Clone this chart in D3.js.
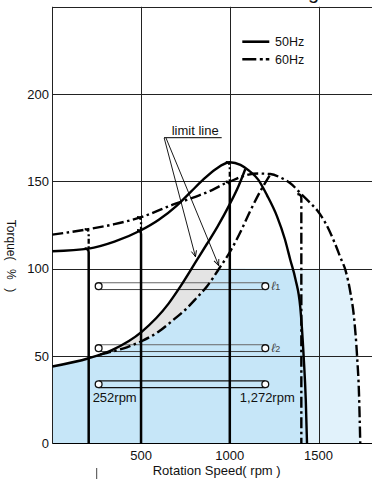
<!DOCTYPE html>
<html><head><meta charset="utf-8">
<script src="https://cdn.jsdelivr.net/npm/d3@7"></script>
<style>
body{margin:0;background:#fff}
svg{display:block}
text{font-family:Arial,"Liberation Sans",sans-serif;fill:#111}
</style>
</head><body>
<svg id="chart" width="372" height="479"></svg>
<script>
// ---- data ----
const rpm50    = [0, 205, 350, 500, 600, 700, 780, 850, 920, 1000, 1060, 1110, 1160, 1210, 1266, 1310, 1341, 1370, 1397, 1416, 1428, 1435];
const torque50 = [110, 111.5, 115.5, 122, 128, 136, 144, 151, 157, 161, 159.5, 156, 151, 142, 130, 117, 105, 94, 78, 50, 25, 0];
const rpm60    = [0, 205, 350, 500, 675, 806, 900, 975, 1000, 1021, 1097, 1160, 1228, 1290, 1341, 1403, 1450, 1491, 1540, 1590, 1625, 1652, 1680, 1700, 1717, 1728, 1735];
const torque60 = [119.5, 122.7, 125.5, 129.5, 136.5, 141.2, 145, 148.9, 149.8, 150.8, 153.7, 154.5, 154.2, 152, 148.9, 142.7, 138, 133.6, 126, 115, 106, 99, 86, 72, 50, 28, 0];
const rpmLimit50    = [0, 205, 336, 505, 655, 721, 815, 870, 930, 1000, 1050, 1087];
const torqueLimit50 = [44, 48.7, 53.4, 64, 80, 89.7, 105, 114, 124, 137, 147.5, 157];
const rpmLimit60    = [270, 336, 420, 505, 600, 674, 759, 806, 872, 946, 1003, 1060, 1115, 1170, 1228];
const torqueLimit60 = [50.8, 52.5, 55, 58.6, 64, 70, 77.5, 82.5, 90, 101, 110, 121, 133, 144, 154];
const speedSettings50 = [205, 500, 1000];
const speedSettings60 = [1403];
const xTicks = [500, 1000, 1500];
const yTicks = [0, 50, 100, 150, 200];
const bandTorque = [90, 54.5, 33.8];
const bandNames  = ["1", "2", ""];
const bandRpm    = [261, 1200];
const bandLabels = ["252rpm", "1,272rpm"];
const seriesNames = ["50Hz", "60Hz"];
const torqueCap = 100;

// ---- setup ----
const svg = d3.select("#chart");
const x = d3.scaleLinear().domain([0, 1800]).range([52.3, 371.8]);
const y = d3.scaleLinear().domain([0, 250]).range([443.3, 6.8]);
const crisp = v => Math.round(v) + 0.5;
const pts = (r, t) => r.map((v, i) => [v, t[i]]);
const at = (r, t, v) => t[r.indexOf(v)];
const DASH = "11,3.5,2.5,3.5";

const line = d3.line().x(d => x(d[0])).y(d => y(d[1])).curve(d3.curveMonotoneX);
const area = d3.area().x(d => x(d[0])).y0(y(0)).y1(d => y(d[1])).curve(d3.curveMonotoneX);

const p50 = pts(rpm50, torque50), p60 = pts(rpm60, torque60);
const pL50 = pts(rpmLimit50, torqueLimit50), pL60 = pts(rpmLimit60, torqueLimit60);

// clip below the 100% cap
svg.append("clipPath").attr("id", "cap").append("rect")
  .attr("x", x(0)).attr("y", y(torqueCap))
  .attr("width", x(1800) - x(0)).attr("height", y(0) - y(torqueCap));

const fills = svg.append("g").attr("clip-path", "url(#cap)");
fills.append("path").attr("d", area(p60.filter(d => d[0] >= 975))).attr("fill", "#e1f2fb");
fills.append("path").attr("d", area(pL50)).attr("fill", "#e4e4e4");
const lower = pL50.filter(d => d[0] < 270).concat(pL60, p50.filter(d => d[0] > 1240));
fills.append("path").attr("d", area(lower)).attr("fill", "#c6e6f8");

// ---- grid ----
const grid = svg.append("g").attr("stroke", "#222").attr("stroke-width", 1).attr("fill", "none");
yTicks.filter(v => v > 0).concat([250]).forEach(v => {
  grid.append("line").attr("x1", x(0)).attr("x2", 372).attr("y1", crisp(y(v))).attr("y2", crisp(y(v)));
});
xTicks.forEach(v => {
  grid.append("line").attr("x1", crisp(x(v))).attr("x2", crisp(x(v))).attr("y1", y(250)).attr("y2", y(0));
});
grid.append("line").attr("x1", crisp(x(0))).attr("x2", crisp(x(0))).attr("y1", y(250)).attr("y2", y(0));
grid.append("line").attr("x1", x(0)).attr("x2", 372).attr("y1", crisp(y(0))).attr("y2", crisp(y(0))).attr("stroke", "#000");

// ---- axis labels ----
const fs = 13;
xTicks.forEach(v => {
  svg.append("text").attr("x", x(v)).attr("y", 459.5).attr("text-anchor", "middle")
    .attr("font-size", fs).text(v);
});
yTicks.forEach(v => {
  svg.append("text").attr("x", 49).attr("y", y(v) + 4.6).attr("text-anchor", "end")
    .attr("font-size", fs).text(v);
});
svg.append("text").attr("x", 216.7).attr("y", 474.5).attr("text-anchor", "middle")
  .attr("font-size", fs).text("Rotation Speed( rpm )");
const yt = svg.append("text").attr("transform", "translate(7,257.3) rotate(90)")
  .attr("text-anchor", "middle").attr("font-size", 12);
yt.append("tspan").text("Torque");
yt.append("tspan").attr("letter-spacing", 2.6).text("( % )");
svg.append("line").attr("x1", 96.7).attr("x2", 96.7).attr("y1", 468).attr("y2", 479)
  .attr("stroke", "#444").attr("stroke-width", 1);
svg.append("text").attr("x", 319).attr("y", -1).attr("text-anchor", "end")
  .attr("font-size", 20).text("Setting");

// ---- speed bands ----
const bands = svg.append("g");
bandTorque.forEach((t, i) => {
  const yc = y(t), x1 = x(bandRpm[0]), x2 = x(bandRpm[1]);
  const strong = i === 2;
  const r = 3.4;
  const g = bands.append("g");
  g.append("line").attr("x1", x1).attr("x2", x2).attr("y1", yc - r).attr("y2", yc - r)
    .attr("stroke", strong ? "#111" : "#666").attr("stroke-width", strong ? 1.3 : 1);
  g.append("line").attr("x1", x1).attr("x2", x2).attr("y1", yc + r).attr("y2", yc + r)
    .attr("stroke", strong ? "#111" : "#444").attr("stroke-width", strong ? 1.3 : 1);
  [x1, x2].forEach(cx => g.append("circle").attr("cx", cx).attr("cy", yc).attr("r", r)
    .attr("fill", "#fff").attr("stroke", "#111").attr("stroke-width", 1.3));
  if (bandNames[i]) {
    const tx = g.append("text").attr("x", x2 + 6).attr("y", yc + 4).attr("font-size", 12)
      .attr("font-style", "italic").style("fill", "#444");
    tx.append("tspan").text("ℓ");
    tx.append("tspan").attr("font-size", 9).attr("font-style", "normal").text(bandNames[i]);
  }
});
svg.append("text").attr("x", x(bandRpm[0]) - 6).attr("y", y(bandTorque[2]) + 17.5)
  .attr("font-size", fs).text(bandLabels[0]);
svg.append("text").attr("x", x(bandRpm[1]) + 2).attr("y", y(bandTorque[2]) + 17.5)
  .attr("text-anchor", "middle").attr("font-size", fs).text(bandLabels[1]);

// ---- curves ----
const curves = svg.append("g").attr("fill", "none").attr("stroke", "#000").attr("stroke-width", 2.4);
curves.append("path").attr("d", line(p50)).attr("stroke-linejoin", "round");
curves.append("path").attr("d", line(pL50)).attr("stroke-linejoin", "round");
curves.append("path").attr("d", line(p60)).attr("stroke-dasharray", DASH);
curves.append("path").attr("d", line(pL60)).attr("stroke-dasharray", DASH);

const corner = (r, tTop, tBot) => {
  const xv = x(r), yt0 = y(tTop);
  return `M${xv - 4},${yt0}Q${xv},${yt0} ${xv},${yt0 + 4}L${xv},${y(tBot)}`;
};
speedSettings50.forEach(r => {
  const a = at(rpm50, torque50, r), c = at(rpm60, torque60, r);
  const hi = Math.max(a, c), lo = Math.min(a, c);
  curves.append("path").attr("d", corner(r, lo, 0)).attr("stroke-width", 2.5);
  curves.append("path").attr("d", corner(r, hi, lo)).attr("stroke-width", 2.3).attr("stroke-dasharray", "5,2.5,2,2.5");
});
speedSettings60.forEach(r => {
  const c = at(rpm60, torque60, r);
  curves.append("path").attr("d", corner(r, c, 0)).attr("stroke-width", 2.4).attr("stroke-dasharray", DASH);
});

// ---- limit line annotation ----
svg.append("defs").append("marker").attr("id", "arr").attr("viewBox", "-8 -4 9 8")
  .attr("markerWidth", 9).attr("markerHeight", 8).attr("refX", 0).attr("refY", 0)
  .attr("orient", "auto").attr("markerUnits", "userSpaceOnUse")
  .append("path").attr("d", "M-6,-2.6L0,0L-6,2.6").attr("fill", "none").attr("stroke", "#000").attr("stroke-width", 0.9);
svg.append("text").attr("x", 171.7).attr("y", 135).attr("font-size", fs).text("limit line");
svg.append("line").attr("x1", 164).attr("x2", 221.7).attr("y1", 137.7).attr("y2", 137.7)
  .attr("stroke", "#000").attr("stroke-width", 1);
[[164.2, 815, 106], [166, 946, 101]].forEach(([sx, r, t]) => {
  svg.append("line").attr("x1", sx).attr("y1", 138).attr("x2", x(r) - 1.5).attr("y2", y(t) - 1.5)
    .attr("stroke", "#000").attr("stroke-width", 0.9).attr("marker-end", "url(#arr)");
});

// ---- legend ----
const lg = svg.append("g");
lg.append("line").attr("x1", 242.3).attr("x2", 269.3).attr("y1", 41.7).attr("y2", 41.7)
  .attr("stroke", "#000").attr("stroke-width", 2.6);
lg.append("line").attr("x1", 242.3).attr("x2", 269.3).attr("y1", 59.3).attr("y2", 59.3)
  .attr("stroke", "#000").attr("stroke-width", 2.6).attr("stroke-dasharray", "14,3.5,3,3");
lg.append("text").attr("x", 275).attr("y", 46).attr("font-size", 12.5).text(seriesNames[0]);
lg.append("text").attr("x", 275).attr("y", 63.5).attr("font-size", 12.5).text(seriesNames[1]);
</script>
</body></html>
